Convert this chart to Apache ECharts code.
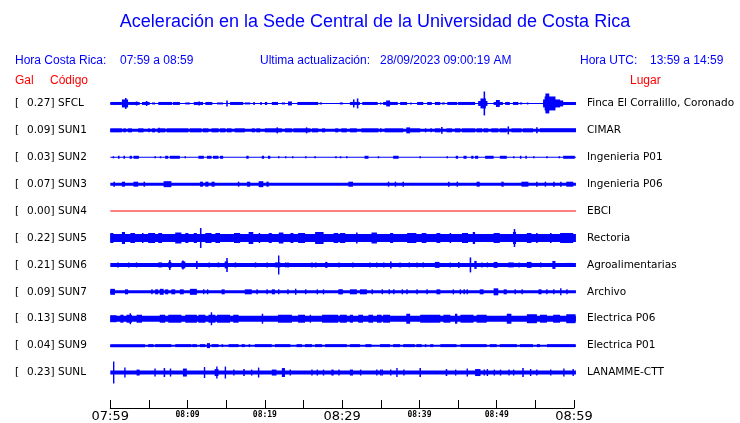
<!DOCTYPE html>
<html><head><meta charset="utf-8">
<script src="https://cdn.jsdelivr.net/npm/echarts@6/dist/echarts.min.js"></script>
<style>html,body{margin:0;padding:0;background:#fff}#c{width:740px;height:423px}</style>
</head><body><div id="c"></div>
<script>
// ---------------- data ----------------
const titleText = 'Aceleración en la Sede Central de la Universidad de Costa Rica';
const stations = ['SFCL','SUN1','SUN2','SUN3','SUN4','SUN5','SUN6','SUN7','SUN8','SUN9','SUNL'];
const places = ['Finca El Corralillo, Coronado','CIMAR','Ingenieria P01','Ingenieria P06','EBCI','Rectoria','Agroalimentarias','Archivo','Electrica P06','Electrica P01','LANAMME-CTT'];
const peakGal = [0.27, 0.09, 0.03, 0.07, 0.00, 0.22, 0.21, 0.09, 0.13, 0.04, 0.23];
// continuous noise level of each trace (half thickness, amplitude units)
const baseAmp = [0.5, 1.5, 0.5, 1.5, 0.5, 4, 2, 1.5, 3, 1, 2];
const traceEnd = 60.25; // minutes after 07:59
const timeLabels = ['07:59','','08:09','','08:19','','08:29','','08:39','','08:49','','08:59'];

// bursts: [start minute, end minute, half amplitude]
const sfcl = [[0,1.5,1.5],[1.5,2.3,4],[1.9,2.1,5.5],[2.3,3.8,1.5],[3.3,3.5,2],[4.1,5.1,1.5],[4.6,4.8,2.5],[5.4,5.8,1],[6.2,8.0,1.5],[8.1,9.0,1.5],[9.7,10.3,1],[10.8,12.0,1.5],[11.4,11.6,2],[12.3,13.2,1.5],[13.8,14.6,1],[15.0,15.2,3],[15.5,17.2,1.5],[17.4,18.1,1],[18.5,18.7,1.5],[19.4,19.6,1.5],[20.0,20.3,1.5],[20.9,21.7,1.5],[22.2,22.6,1],[23.0,23.5,2],[24.2,26.9,1.5],[27.1,27.4,1],
 [29.7,30.1,1],[31.0,32.3,1.5],[31.4,31.6,4],[31.9,32.1,5],[32.6,34.6,1.5],[34.9,35.1,1],[35.3,37.2,1.5],[35.7,36.2,3],[37.5,38.4,1.5],[38.8,39.0,1],[39.7,40.5,1.5],[41.0,41.6,1.5],[42.0,42.7,1.5],[42.9,43.3,1],[43.6,44.9,1.5],[45.0,47.2,1.5],[47.6,48.8,2.5],[47.9,48.6,5],[48.3,48.5,12],[49.6,50.8,1.5],[49.9,50.4,3.5],[51.1,51.7,1.5],[52.1,52.8,1.5],[53.0,53.3,1],[53.9,54.1,1],[56.0,60.25,1.5],[56.0,58.2,4],[56.2,57.6,7],[56.3,56.8,10],[57.6,58.6,3]];
const sun1 = [[0,1.5,2],[1.7,2.0,2],[2.3,2.8,2],[3.6,4.3,2],[4.9,5.1,2],[5.4,5.8,2],[6.1,7.1,2],[6.2,6.4,2.5],[7.3,10.1,2],[10.3,11.8,2],[12.0,12.7,2],[13.1,14.0,2],[14.2,14.9,2],[15.1,15.7,2],[16.1,17.4,2],[18.3,18.7,2],[18.9,19.4,2],[20.0,22.2,2],[21.5,21.7,3],[22.6,23.5,2],[23.7,25.9,2],[25.3,25.5,3],[26.1,26.9,2],[27.4,27.8,2],[29.1,29.5,2],[29.9,30.6,2],[31.0,31.9,2],[32.5,34.7,2],[34.9,35.1,2],[35.5,37.9,2],[38.3,38.8,3],[38.8,40.1,2],[40.7,40.9,2],[41.4,41.6,2],[42.0,42.7,2],[42.8,43.0,3.5],[43.5,44.2,2],[44.6,45.3,2],[45.5,47.2,2],[47.4,48.1,2],[48.3,48.9,2],[49.3,50.2,2],[50.4,51.3,2],[51.4,51.6,4],[51.9,53.2,2],[53.4,54.7,2],[55.1,55.3,3],[55.6,60.25,2]];
const sun2 = [[0.3,0.5,1],[1.0,1.2,1.5],[1.7,1.9,1.5],[2.5,2.8,1.5],[3.0,3.7,1.5],[5.7,5.9,1],[6.4,6.6,1],[7.1,7.5,1.5],[7.7,9.0,1.5],[9.6,9.8,1],[11.4,12.1,1.5],[12.5,13.1,1.5],[13.3,14.0,1.5],[14.2,14.6,1.5],[17.6,17.9,1.5],[19.6,19.9,1.5],[20.4,20.7,1.5],[21.7,21.9,1],[22.6,22.8,1],[23.5,23.7,1],[25.2,25.4,1],[26.4,26.6,1],[29.1,29.3,1],
 [29.7,29.9,1],[30.5,30.7,1],[32.9,33.4,1.5],[34.6,34.8,1],[36.6,37.3,1.5],[40.0,40.2,1],[43.5,43.7,1],[44.7,45.0,1.5],[45.7,46.1,1.5],[46.7,47.0,1.5],[47.2,47.6,1.5],[48.5,49.6,1.5],[50.4,51.3,1.5],[52.1,52.3,1],[53.0,53.2,1.5],[53.7,53.9,1.5],[54.7,54.9,1],[56.4,56.6,1],[58.0,58.2,1],[58.6,60.1,1.5]];
const sun3 = [[0.4,0.6,2.5],[1.5,1.9,2.5],[3.0,3.6,2.5],[4.3,4.5,2.5],[6.9,7.9,3],[11.6,12.0,2.5],[12.3,12.7,2.5],[13.1,13.5,2.5],[16.5,16.7,2.5],[17.7,18.1,2.5],[19.2,19.8,3],[20.2,20.5,2.5],
 [30.8,31.4,2.5],[35.9,36.1,2.5],[36.8,37.0,2.5],[37.8,38.0,2.5],[43.7,43.9,2.5],[44.8,45.0,2.5],[47.4,47.8,2.5],[50.6,50.9,2.5],[53.2,54.1,2.5],[55.1,55.3,2.5],[56.2,56.4,2.5],[57.3,57.5,2.5],[58.2,58.4,2.5],[59.0,59.9,2.5]];
const sun4 = [];
const sun5 = [[0,0.4,5],[1.5,1.9,6],[2.6,3.2,5],[4.1,4.3,5],[4.9,5.8,5],[6.2,6.7,5],[8.4,9.2,5.5],[9.7,10.1,5],[10.8,11.2,5],[11.6,11.8,10],[12.3,13.1,5],[13.6,14.2,5],[16.0,16.8,5],[17.9,18.5,6],[19.2,19.4,5],[20.5,20.9,5],[21.8,22.4,5.5],[23.3,23.7,5],[24.3,25.2,5],[26.5,27.6,6],[28.9,29.5,5],
 [29.7,30.4,5],[31.8,32.0,5.5],[33.8,34.5,5.5],[36.2,36.6,5],[38.4,39.6,5],[40.3,40.9,5],[42.2,42.7,5],[43.9,44.1,5],[45.5,46.3,5],[46.9,47.2,6],[49.6,50.4,5],[52.1,52.5,6],[52.2,52.4,9],[53.9,54.5,5],[55.1,55.3,5],[56.9,57.1,5],[58.2,59.9,5]];
const sun6 = [[0.9,1.1,2.5],[2.3,2.4,2.5],[3.3,3.4,2.5],[6.2,6.7,2.5],[7.5,7.9,3],[7.6,7.8,5],[9.2,9.7,3.5],[9.3,9.5,4.5],[11.1,11.3,4],[12.7,12.9,2.5],[13.9,14.1,2.5],[14.8,15.2,3.5],[15.0,15.2,7],[16.1,16.3,2.5],[18.7,18.9,2.5],[20.2,20.4,2.5],[21.3,22.0,2.5],[21.7,21.85,9.5],[22.6,22.8,2.5],[22.9,23.1,2.5],[26.0,26.2,2.5],[26.5,26.6,2.5],[27.8,28.1,3],[29.5,29.6,2.5],
 [31.3,31.4,2.5],[33.5,33.6,2.5],[34.4,34.5,2.5],[35.3,35.4,2.5],[36.2,36.4,3.5],[37.4,37.5,2.5],[38.6,38.7,2.5],[39.6,39.7,2.5],[40.4,40.6,2.5],[42.0,42.6,3],[43.9,44.0,2.5],[45.0,45.1,3],[46.5,46.7,7.5],[47.1,47.4,4],[48.0,48.1,2.5],[48.7,48.8,2.5],[49.6,50.1,3],[51.5,52.2,2.5],[52.8,52.9,2.5],[53.9,54.5,3],[55.6,55.7,2.5],[57.2,57.6,4],[59.0,59.9,2]];
const sun7 = [[0,0.6,3],[1.9,2.3,2.5],[5.3,5.4,2.5],[5.8,6.2,2.5],[6.4,6.9,3],[7.1,7.5,2.5],[7.9,8.4,2.5],[9.0,9.5,2.5],[10.3,11.2,3],[12.0,12.1,2.5],[12.5,12.6,2.5],[14.4,14.8,2.5],[17.4,18.3,2.5],[18.9,19.0,2.5],[20.2,20.3,2.5],[20.9,21.3,2.5],[21.7,21.8,2.5],[22.9,23.0,2.5],[23.9,24.0,3],[25.2,25.3,2.5],[26.7,26.8,2.5],[27.5,27.6,2.5],[29.5,29.9,2.5],
 [29.7,30.1,2.5],[31.0,31.9,2.5],[32.3,33.2,2.5],[33.8,33.9,2.5],[35.1,35.2,2.5],[36.0,36.1,2.5],[36.6,36.7,2.5],[37.7,37.8,2.5],[38.3,38.4,2.5],[39.6,39.7,2.5],[40.9,41.0,2.5],[42.2,42.7,2.5],[44.3,44.4,2.5],[45.2,45.3,2.5],[45.7,45.8,2.5],[46.1,46.2,2.5],[47.8,48.3,2.5],[49.6,50.2,3.5],[50.9,51.3,2.5],[52.3,52.4,2.5],[53.2,53.3,2.5],[55.4,55.8,2.5],[56.4,56.5,2.5],[57.3,57.4,2.5],[58.2,58.3,3.5],[59.0,59.1,2.5]];
const sun8 = [[0,0.8,3.5],[1.3,1.7,4],[2.1,2.8,4],[2.5,2.6,5.5],[3.4,4.1,4],[6.4,7.1,4],[7.5,9.2,4],[9.7,11.2,4],[11.4,12.3,4],[12.7,13.6,4],[13.0,13.1,6.5],[13.8,15.5,4],[15.9,16.6,4],[19.6,19.7,5],[21.7,23.5,4],[24.3,25.2,4],[25.8,25.9,4],[27.4,29.5,4],[30.2,30.4,3.5],
 [29.7,30.6,4],[31.0,31.4,4],[32.1,32.7,4],[33.4,34.0,4],[34.5,35.1,4],[35.3,36.2,4],[38.3,38.8,5],[40.1,42.7,4],[43.1,44.0,4],[44.6,44.9,5],[45.3,47.0,4],[47.4,48.7,4],[51.3,51.9,5],[53.9,55.2,4.5],[55.6,56.5,4],[57.3,58.2,4],[59.0,60.2,4.5]];
const sun9 = [[0,4.5,1.5],[4.9,5.6,1.5],[5.8,7.9,1.5],[8.4,10.5,1.5],[10.6,11.2,1.5],[11.6,12.3,1.5],[12.5,12.9,2.5],[13.1,14.0,1.5],[14.4,14.6,1.5],[15.3,16.6,1.5],[17.0,17.4,1.5],[17.9,18.1,1.5],[18.7,20.9,1.5],[21.3,23.3,1.5],[24.1,24.8,1.5],[25.2,26.1,1.5],[26.5,27.4,1.5],[27.8,30.6,1.5],
 [31.0,32.3,1.5],[33.0,33.8,1.5],[34.9,36.2,1.5],[36.6,37.5,1.5],[37.9,39.4,1.5],[39.6,40.3,1.5],[40.7,40.9,1.5],[41.4,41.8,1.5],[42.7,44.8,1.5],[45.3,48.7,1.5],[49.1,50.0,1.5],[50.4,52.6,1.5],[53.0,54.7,1.5],[55.2,55.6,1.5],[56.5,60.2,1.5]];
const sunl = [[0.35,0.5,11],[1.8,1.9,5],[3.4,3.8,3],[5.7,5.8,4],[6.9,7.1,4.5],[7.7,7.8,4],[9.4,9.9,4],[12.1,12.2,5.5],[13.5,14.0,3.5],[13.7,13.8,6],[14.8,14.9,6],[15.9,16.0,3],[17.2,17.4,3.5],[18.2,18.3,3],[19.1,19.2,5],[20.9,21.5,3],[22.2,22.6,4.5],[23.2,23.3,3],[26.0,26.1,3],[26.7,26.8,3],[27.5,27.6,3],[28.6,28.9,3],[29.5,29.6,3],
 [31.0,31.4,3],[32.3,32.4,3],[34.4,34.5,3],[34.9,35.0,3],[35.1,35.2,3],[36.2,36.3,3],[37.0,37.1,4.5],[37.9,38.0,3],[40.0,40.2,4.5],[43.4,43.6,3.5],[44.6,44.7,3],[46.1,46.2,4],[47.2,47.9,3.5],[48.3,48.4,3],[48.7,48.8,3.5],[49.6,49.7,3],[50.4,50.5,3],[51.5,51.6,3],[52.1,52.2,3],[53.3,53.5,4.5],[54.3,54.4,3.5],[55.1,55.2,3],[56.9,57.0,3],[58.6,58.7,4],[59.8,59.9,3.5]];
const bursts = [sfcl, sun1, sun2, sun3, sun4, sun5, sun6, sun7, sun8, sun9, sunl];

// ---------------- chart ----------------
const BLUE = '#0000ff', RED = '#ff0000';
const traceColors = stations.map(s => s === 'SUN4' ? RED : BLUE);
const ROW_UNITS = 27; // amplitude units between two traces

function makeRender(color) {
  return function (params, api) {
    const row = api.value(3);
    const p0 = api.coord([api.value(0), row]);
    const p1 = api.coord([api.value(1), row]);
    const unit = Math.abs(api.coord([0, 1])[1] - api.coord([0, 0])[1]) / ROW_UNITS;
    const h = api.value(2) * unit;
    const w = Math.max(p1[0] - p0[0], 1.4);
    return { type: 'rect', shape: { x: p0[0], y: p0[1] - h, width: w, height: 2 * h }, style: { fill: color } };
  };
}

const series = stations.map((s, i) => ({
  type: 'custom', name: s, xAxisIndex: 0, yAxisIndex: 0,
  renderItem: makeRender(traceColors[i]),
  encode: { x: [0, 1], y: 3 },
  silent: true, animation: false,
  data: [[0, traceEnd, baseAmp[i], i]].concat(bursts[i].map(b => [b[0], b[1], b[2], i]))
}));

const hdr = (text, x, y, color, align) => ({
  type: 'text', x: x, y: y, silent: true,
  style: { text: text, fill: color, fontFamily: 'Liberation Sans', fontSize: 12, align: align || 'left', verticalAlign: 'middle' }
});

const option = {
  animation: false,
  backgroundColor: '#fff',
  grid: { left: 110.3, right: 166, top: 90, height: 297 },
  xAxis: {
    type: 'value', min: 0, max: 60, interval: 5, position: 'bottom', offset: 22,
    axisLine: { show: true, lineStyle: { color: '#000', width: 1 } },
    axisTick: { show: true, inside: true, length: 8, lineStyle: { color: '#000' } },
    splitLine: { show: false },
    axisLabel: {
      margin: 2, showMinLabel: true, showMaxLabel: true, hideOverlap: false,
      formatter: v => { const k = Math.round(v / 5); const s = timeLabels[k]; if (!s) return ''; return k % 6 === 0 ? '{big|' + s + '}' : '{small|' + s + '}'; },
      rich: {
        big: { fontFamily: 'DejaVu Sans', fontSize: 13, lineHeight: 13, color: '#000' },
        small: { fontFamily: 'DejaVu Sans Mono', fontWeight: 'bold', fontSize: 8, lineHeight: 9, color: '#000' }
      }
    }
  },
  yAxis: [
    { type: 'category', data: stations, inverse: true, position: 'left',
      axisLine: { show: false }, axisTick: { show: false }, splitLine: { show: false },
      axisLabel: { align: 'left', margin: 95.3,
        formatter: (v, i) => '{a|[}{b|' + peakGal[i].toFixed(2) + ']}{c|' + v + '}',
        rich: {
          a: { width: 12, fontFamily: 'DejaVu Sans', fontSize: 10.5, color: '#000' },
          b: { width: 31, fontFamily: 'DejaVu Sans', fontSize: 10.5, color: '#000' },
          c: { fontFamily: 'DejaVu Sans', fontSize: 10.5, color: '#000' }
        } } },
    { type: 'category', data: stations, inverse: true, position: 'right',
      axisLine: { show: false }, axisTick: { show: false }, splitLine: { show: false },
      axisLabel: { align: 'left', margin: 13, fontFamily: 'DejaVu Sans', fontSize: 10.5, color: '#000',
        formatter: (v, i) => places[i] } }
  ],
  graphic: [
    { type: 'text', x: 375, y: 22, silent: true,
      style: { text: titleText, fill: BLUE, fontFamily: 'Liberation Sans', fontSize: 18, align: 'center', verticalAlign: 'middle' } },
    hdr('Hora Costa Rica:', 15, 61, BLUE),
    hdr('07:59 a 08:59', 120, 61, BLUE),
    hdr('Ultima actualización:', 260, 61, BLUE),
    hdr('28/09/2023 09:00:19 AM', 380, 61, BLUE),
    hdr('Hora UTC:', 580, 61, BLUE),
    hdr('13:59 a 14:59', 650, 61, BLUE),
    hdr('Gal', 15, 81, RED),
    hdr('Código', 50, 81, RED),
    hdr('Lugar', 630, 81, RED)
  ],
  series: series
};

const chart = echarts.init(document.getElementById('c'), null, { renderer: 'canvas' });
chart.setOption(option);
</script>
</body></html>
